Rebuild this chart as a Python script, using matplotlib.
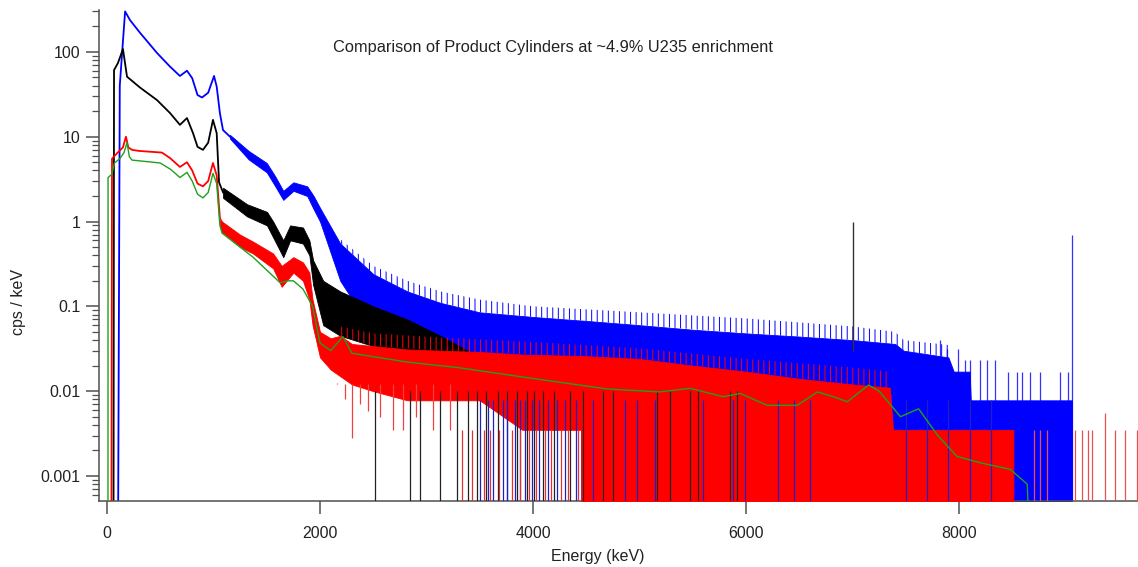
import matplotlib.pyplot as plt
from matplotlib.ticker import LogLocator, FuncFormatter, NullFormatter

plt.rcParams['font.family'] = ['Liberation Sans', 'DejaVu Sans']
plt.rcParams['hatch.linewidth'] = 0.7

ZERO = 1e-5  # zero-count channels (below the axis floor)

# ---- blue trace: smooth low-energy part + noisy band (upper / lower envelope)
blue_line_e = [100, 120, 170, 216, 310, 470, 592, 685, 751, 800, 850, 892, 950, 1005, 1030, 1060, 1089, 1155]
blue_line_v = [ZERO, 40, 300, 237, 168, 97, 67, 52, 60, 49, 31, 29, 33, 52, 39, 19, 12, 10]
blue_band_e = [1155, 1330, 1500, 1580, 1655, 1750, 1880, 1940, 2000, 2190, 2500, 2820, 3130, 3500,
               4000, 4450, 4460, 5000, 5500, 6000, 6500, 7000, 7400, 7480, 7900, 7950, 8100, 8110, 9060]
blue_hi = [10.5, 6.8, 4.9, 3.4, 2.3, 2.9, 2.6, 2.0, 1.45, 0.55, 0.24, 0.15, 0.11, 0.085,
           0.075, 0.068, 0.068, 0.06, 0.053, 0.048, 0.044, 0.04, 0.036, 0.03, 0.025, 0.017, 0.017, 0.0078, 0.0078]
blue_lo = [9.5, 5.4, 3.8, 2.6, 1.8, 2.3, 2.0, 1.4, 1.0, 0.2, 0.05, 0.035, 0.03, 0.025,
           0.02, 0.015, ZERO, ZERO, ZERO, ZERO, ZERO, ZERO, ZERO, ZERO, ZERO, ZERO, ZERO, ZERO, ZERO]
# noise spikes above the solid band: (energy, band top, spike tip)
blue_tip_e = [2190, 2500, 2820, 3130, 3500, 4000, 5000, 6000, 7000, 7400, 7480, 7900]
blue_tip_base = [0.55, 0.24, 0.15, 0.11, 0.085, 0.075, 0.06, 0.048, 0.04, 0.036, 0.03, 0.025]
blue_tip_v = [0.62, 0.3, 0.2, 0.15, 0.12, 0.1, 0.085, 0.072, 0.058, 0.05, 0.04, 0.035]
blue_spike_e = [7820, 7890, 7990, 8060, 8105, 8200, 8260, 8340, 8460, 8545, 8590, 8670, 8760, 8950, 9025, 9060]
blue_spike_v = [0.04, 0.031, 0.031, 0.023, 0.023, 0.023, 0.023, 0.023, 0.017, 0.017, 0.017, 0.017, 0.017, 0.017, 0.017, 0.69]
blue_drop_e = [3502, 3580, 3620, 3718, 3760, 3831, 3880, 3925, 3990, 4060, 4140, 4226, 4300, 4400, 4564,
               4864, 4977, 5146, 5600, 5878, 5991, 6300, 6450, 6600, 7500, 7700, 7900, 8100, 8300]

# ---- black trace
black_line_e = [60, 66, 103, 150, 188, 310, 470, 592, 685, 751, 808, 850, 901, 950, 995, 1030, 1052, 1090]
black_line_v = [ZERO, 61, 74, 108, 51, 38, 27, 19, 13.8, 16.6, 11, 7.6, 7, 8.5, 15.8, 11, 2.9, 2.2]
black_band_e = [1090, 1315, 1502, 1560, 1655, 1720, 1840, 1900, 1935, 2030, 2190, 2500, 2820, 3130,
                3500, 4000, 4500]
black_hi = [2.5, 1.6, 1.3, 1.0, 0.6, 0.9, 0.85, 0.6, 0.35, 0.2, 0.15, 0.1, 0.07, 0.045,
            0.025, 0.02, 0.02]
black_lo = [1.9, 1.15, 0.9, 0.65, 0.38, 0.6, 0.55, 0.4, 0.18, 0.06, 0.045, 0.034, 0.025, 0.018,
            0.0078, 0.0078, 0.0078]
black_drop_e = [2517, 2845, 2939, 3127, 3287, 3390, 3474, 3560, 3672, 3756, 3850, 3944, 4010, 4094,
                4200, 4348, 4470, 4657, 4751, 5165, 5287, 5474, 5550, 5850, 5916]
black_spike_e = 7000
black_spike_v = 1.0

# ---- red trace
red_line_e = [40, 47, 100, 150, 178, 200, 235, 300, 516, 592, 685, 751, 800, 850, 901, 950, 995, 1030, 1060]
red_line_v = [ZERO, 5.5, 6.5, 7.5, 10, 7.5, 7.0, 6.8, 6.5, 5.6, 4.4, 5.0, 4.0, 2.8, 2.6, 3.0, 4.9, 3.5, 1.1]
red_band_e = [1060, 1080, 1250, 1371, 1560, 1640, 1750, 1840, 1900, 1930, 2000, 2100, 2190, 2300,
              2500, 2820, 3130, 3500, 3900, 4450, 4460, 5000, 5500, 6000, 6500, 7000, 7350, 7380, 8510]
red_hi = [1.1, 1.0, 0.7, 0.58, 0.42, 0.3, 0.38, 0.33, 0.25, 0.12, 0.05, 0.042, 0.045, 0.036,
          0.034, 0.031, 0.03, 0.029, 0.027, 0.026, 0.026, 0.024, 0.02, 0.017, 0.014, 0.012, 0.011, 0.0035, 0.0035]
red_lo = [0.9, 0.75, 0.5, 0.42, 0.28, 0.17, 0.25, 0.2, 0.12, 0.06, 0.025, 0.018, 0.015, 0.012,
          0.01, 0.0078, 0.0078, 0.0078, 0.0035, 0.0035, ZERO, ZERO, ZERO, ZERO, ZERO, ZERO, ZERO, ZERO, ZERO]
red_tip_e = [2190, 2500, 3130, 4000, 5000, 6000, 7000, 7350]
red_tip_base = [0.045, 0.034, 0.03, 0.027, 0.024, 0.017, 0.012, 0.011]
red_tip_v = [0.058, 0.048, 0.043, 0.038, 0.032, 0.024, 0.019, 0.017]
red_dip_e = [2160, 2230, 2300, 2380, 2450, 2560, 2686, 2780, 2900, 3061, 3221]
red_dip_v = [0.0126, 0.008, 0.0028, 0.007, 0.0059, 0.005, 0.0035, 0.0035, 0.005, 0.0035, 0.0035]
red_drop_e = [3330, 3430, 3540, 3600, 3680, 3800, 3880, 3960, 4030, 4110, 4170, 4260, 4330, 4420]
red_tail_e = [8700, 8760, 8830, 9090, 9155, 9212, 9250, 9371, 9465, 9560, 9672]
red_tail_v = [0.0035, 0.0035, 0.0035, 0.0035, 0.0035, 0.0035, 0.0035, 0.0056, 0.0035, 0.0035, 0.0035]

# ---- green (smoothed) trace
green_e = [9, 10, 45, 70, 120, 160, 188, 210, 235, 500, 600, 685, 751, 800, 850, 901, 950, 995, 1030,
           1060, 1080, 1371, 1625, 1700, 1750, 1840, 1930, 2000, 2100, 2215, 2300, 2820, 3290, 4070,
           4700, 5190, 5475, 5785, 5945, 6200, 6480, 6670, 6820, 6950, 7150, 7250, 7450, 7620, 7800,
           7980, 8230, 8480, 8640, 8700]
green_v = [ZERO, 3.3, 3.6, 4.9, 5.5, 6.5, 8.5, 5.8, 5.3, 4.9, 4.1, 3.3, 3.8, 3.0, 2.1, 1.9, 2.2, 3.7, 2.8,
           0.9, 0.73, 0.38, 0.19, 0.2, 0.2, 0.16, 0.1, 0.037, 0.03, 0.044, 0.028, 0.022, 0.019, 0.0137,
           0.0106, 0.0098, 0.0108, 0.0086, 0.0094, 0.0068, 0.0068, 0.0098, 0.0086, 0.0075, 0.0118, 0.01,
           0.005, 0.0062, 0.003, 0.0017, 0.0014, 0.0012, 0.0008, ZERO]

BLUE, BLACK, RED, GREEN = '#0000ff', '#000000', '#ff0000', '#1fa01f'

fig = plt.figure(figsize=(11.38, 5.67), dpi=100)
ax = fig.add_axes([0.087, 0.1164, 0.913, 0.866])
ax.set_yscale('log')
ax.set_xlim(-75, 9680)
ax.set_ylim(5.07e-4, 312)

# blue
ax.plot(blue_line_e, blue_line_v, color=BLUE, lw=1.3, zorder=1)
ax.fill_between(blue_band_e, blue_lo, blue_hi, color=BLUE, lw=0.6, zorder=1)
ax.fill_between(blue_tip_e, blue_tip_base, blue_tip_v, facecolor='none',
                edgecolor=BLUE, hatch='|||', lw=0, zorder=1)
ax.vlines(blue_spike_e, ZERO, blue_spike_v, color=BLUE, lw=0.9, alpha=0.8, zorder=1)

# black
ax.plot(black_line_e, black_line_v, color=BLACK, lw=1.3, zorder=2)
ax.fill_between(black_band_e, black_lo, black_hi, color=BLACK, lw=0.6, zorder=2)
ax.vlines(black_spike_e, 0.03, black_spike_v, color='#333333', lw=1.0, zorder=2)

# red
ax.plot(red_line_e, red_line_v, color=RED, lw=1.3, zorder=3)
ax.fill_between(red_band_e, red_lo, red_hi, color=RED, lw=0.6, zorder=3)
ax.fill_between(red_tip_e, red_tip_base, red_tip_v, facecolor='none',
                edgecolor=RED, hatch='|||', lw=0, zorder=3)
ax.vlines(red_dip_e, red_dip_v, 0.012, color='#f04040', lw=0.9, zorder=3)
ax.vlines(red_tail_e, ZERO, red_tail_v, color='#e85050', lw=0.9, zorder=3)

# zero-count channels drop to the bottom of the log axis
ax.vlines(black_drop_e, ZERO, 0.01, color='#222222', lw=0.9, zorder=4)
ax.vlines(blue_drop_e, ZERO, 0.0078, color='#2020c0', lw=0.9, zorder=4)
ax.vlines(red_drop_e, ZERO, 0.0035, color='#e03030', lw=0.9, zorder=4)

# green
ax.plot(green_e, green_v, color=GREEN, lw=1.0, zorder=5)

# axes styling
for side in ['top', 'right']:
    ax.spines[side].set_visible(False)
for side in ['left', 'bottom']:
    ax.spines[side].set_color('#505050')
    ax.spines[side].set_linewidth(1.1)

ax.set_xticks([0, 2000, 4000, 6000, 8000])
ax.yaxis.set_major_locator(LogLocator(base=10, numticks=12))
ax.yaxis.set_minor_locator(LogLocator(base=10, subs=range(2, 10), numticks=12))
ax.yaxis.set_major_formatter(FuncFormatter(lambda v, p: '%g' % v))
ax.yaxis.set_minor_formatter(NullFormatter())
ax.tick_params(axis='x', which='major', length=9, width=1.1, pad=9,
               color='#505050', labelcolor='#222222', labelsize=11.5)
ax.tick_params(axis='x', which='minor', bottom=False)
ax.tick_params(axis='y', which='major', length=9.5, width=1.1, pad=4,
               color='#505050', labelcolor='#222222', labelsize=11.5)
ax.tick_params(axis='y', which='minor', length=5, width=0.9, color='#505050')

fig.text(0.486, 0.917, 'Comparison of Product Cylinders at ~4.9% U235 enrichment',
         ha='center', va='center', fontsize=11.8, color='#222222')
fig.text(0.525, 0.018, 'Energy (keV)', ha='center', va='center', fontsize=11.5, color='#222222')
fig.text(0.016, 0.468, 'cps / keV', ha='center', va='center', rotation=90,
         fontsize=11.5, color='#222222')

fig.savefig('out.png', dpi=100)
